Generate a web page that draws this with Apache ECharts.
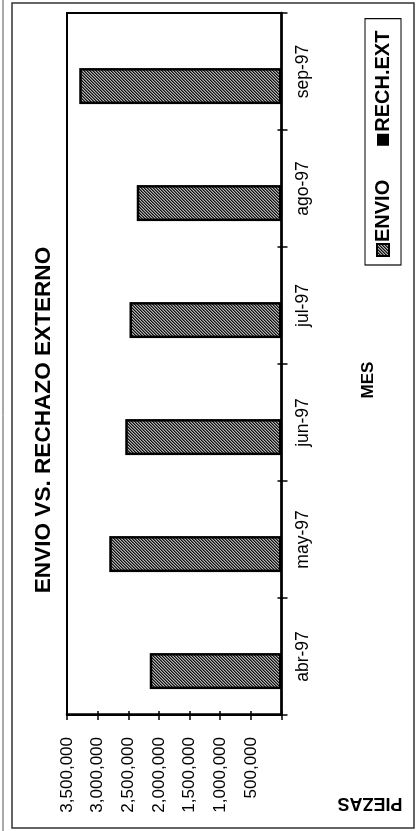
<!DOCTYPE html>
<html>
<head>
<meta charset="utf-8">
<script src="https://cdn.jsdelivr.net/npm/echarts@6/dist/echarts.min.js"></script>
<style>
  html, body { margin: 0; padding: 0; background: #fff; width: 420px; height: 831px; overflow: hidden; }
  /* The chart is laid out landscape and turned a quarter turn counter-clockwise onto the portrait page */
  #chart { position: absolute; left: 0; top: 0; width: 831px; height: 420px;
           transform-origin: 0 0; transform: translate(0, 831px) rotate(-90deg); }
</style>
</head>
<body>
<div id="chart"></div>
<script>
// Monthly figures
const months = ['abr-97', 'may-97', 'jun-97', 'jul-97', 'ago-97', 'sep-97'];
const envio = [2150000, 2810000, 2550000, 2480000, 2360000, 3300000];
const rechExt = [0, 0, 0, 0, 0, 0];

// Value axis scale
const valueMin = 0;
const valueMax = 3500000;
const valueStep = 500000;

// Texts
const chartTitle = 'ENVIO VS. RECHAZO EXTERNO';
const xTitle = 'MES';
const yTitle = 'PIEZAS';
const seriesNames = ['ENVIO', 'RECH.EXT'];

const FONT = '"Liberation Sans", Arial, Helvetica, sans-serif';

// Diagonal hatch fill for the ENVIO bars
function hatchPattern() {
  const c = document.createElement('canvas');
  c.width = 3; c.height = 3;
  const ctx = c.getContext('2d');
  const shades = ['#111111', '#5e5e5e', '#b4b4b4'];
  for (let x = 0; x < 3; x++) {
    for (let y = 0; y < 3; y++) {
      ctx.fillStyle = shades[(x + y) % 3];
      ctx.fillRect(x, y, 1, 1);
    }
  }
  return { image: c, repeat: 'repeat' };
}

const chart = echarts.init(document.getElementById('chart'), null, { renderer: 'canvas' });

const fmt = v => (v === 0 ? '' : v.toLocaleString('en-US'));

const option = {
  backgroundColor: '#ffffff',
  animation: false,
  textStyle: { fontFamily: FONT },
  grid: {
    left: 116, right: 13, top: 67, bottom: 138.5,
    show: true, borderColor: '#000', borderWidth: 2,
    outerBoundsMode: 'none'
  },
  legend: {
    left: 566, top: 365,
    orient: 'horizontal',
    selectedMode: false,
    itemWidth: 12, itemHeight: 12, itemGap: 34,
    padding: [8, 12, 8, 8],
    borderColor: '#000', borderWidth: 1.2,
    icon: 'rect',
    textStyle: { fontFamily: FONT, fontSize: 20, fontWeight: 'bold', color: '#000', padding: [0, 0, 0, -3] },
    data: seriesNames
  },
  xAxis: [
    {
      type: 'category', data: months, position: 'bottom',
      axisLine: { show: true, lineStyle: { color: '#000', width: 2.5 } },
      axisTick: { show: true, length: 6, lineStyle: { color: '#000', width: 1.5 } },
      axisLabel: { fontFamily: FONT, fontSize: 17.5, color: '#000', margin: 13 },
      splitLine: { show: false }
    },
    {
      type: 'category', data: months, position: 'bottom',
      axisLine: { show: false },
      axisTick: { show: true, inside: true, length: 4, lineStyle: { color: '#000', width: 1.5 } },
      axisLabel: { show: false },
      splitLine: { show: false }
    }
  ],
  yAxis: [
    {
      type: 'value', min: valueMin, max: valueMax, interval: valueStep, position: 'left',
      axisLine: { show: true, lineStyle: { color: '#000', width: 2.5 } },
      axisTick: { show: true, length: 5, lineStyle: { color: '#000', width: 1.5 } },
      axisLabel: { fontFamily: FONT, fontSize: 17, color: '#000', margin: 22, formatter: fmt },
      splitLine: { show: false }
    },
    {
      type: 'value', min: valueMin, max: valueMax, interval: valueStep, position: 'left',
      axisLine: { show: false },
      axisTick: { show: true, inside: true, length: 4, lineStyle: { color: '#000', width: 1.5 } },
      axisLabel: { show: false },
      splitLine: { show: false }
    }
  ],
  series: [
    {
      name: seriesNames[0], type: 'bar', data: envio,
      xAxisIndex: 0, yAxisIndex: 0,
      barWidth: 36, barGap: '-19%',
      itemStyle: { color: hatchPattern(), borderColor: '#000', borderWidth: 2.5 }
    },
    {
      name: seriesNames[1], type: 'bar', data: rechExt,
      xAxisIndex: 0, yAxisIndex: 0,
      barWidth: 36,
      itemStyle: { color: '#000' }
    }
  ],
  graphic: [
    {
      type: 'line', silent: true,
      shape: { x1: 0, y1: 3, x2: 831, y2: 3 },
      style: { stroke: '#555', lineWidth: 1 }
    },
    {
      type: 'rect', silent: true,
      shape: { x: 3, y: 12, width: 825, height: 402 },
      style: { fill: 'none', stroke: '#333', lineWidth: 1.5 }
    },
    {
      type: 'text', silent: true, x: 411, y: 44,
      style: { text: chartTitle, fontFamily: FONT, fontSize: 22.6, fontWeight: 'bold', fill: '#000',
               align: 'center', verticalAlign: 'middle' }
    },
    {
      type: 'text', silent: true, x: 451, y: 368,
      style: { text: xTitle, fontFamily: FONT, fontSize: 17, fontWeight: 'bold', fill: '#000',
               align: 'center', verticalAlign: 'middle' }
    },
    {
      type: 'text', silent: true, x: 28, y: 370, rotation: Math.PI / 2,
      style: { text: yTitle, fontFamily: FONT, fontSize: 18, fontWeight: 'bold', fill: '#000',
               align: 'center', verticalAlign: 'middle' }
    }
  ]
};

chart.setOption(option);
</script>
</body>
</html>
